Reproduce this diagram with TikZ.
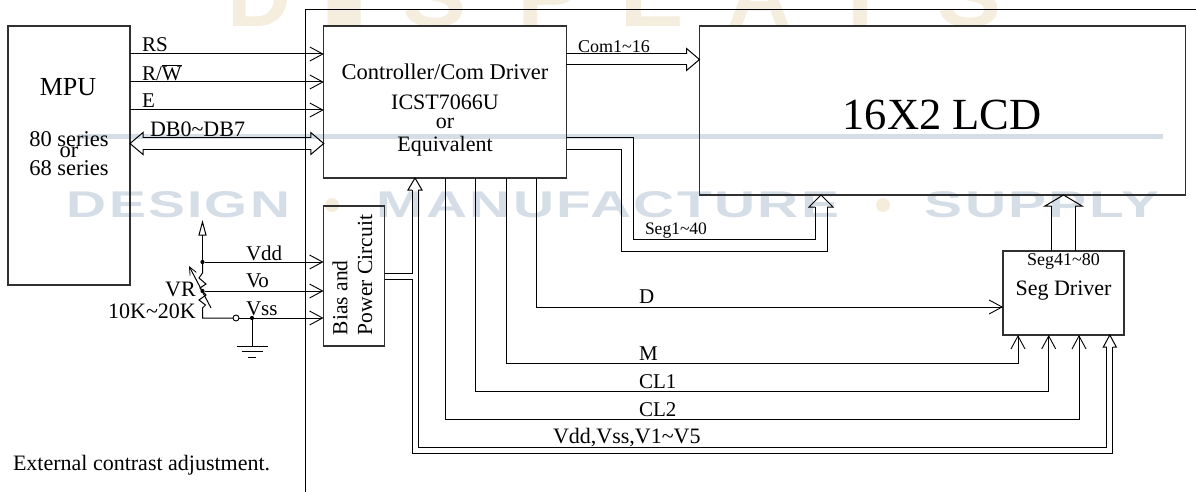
\documentclass[tikz,border=0pt]{standalone}
\usepackage{fontspec}
\usepackage{graphicx}
\setmainfont{Liberation Serif}
\newfontfamily\wmfont{Liberation Sans}
\usetikzlibrary{arrows.meta,calc}
\definecolor{wmblue}{HTML}{D5DEE6}
\definecolor{wmtan}{HTML}{F5EEDF}
\definecolor{wmdot}{HTML}{F6ECDC}
\definecolor{boxgray}{HTML}{303030}
\newcommand{\fsz}[1]{\fontsize{#1}{#1}\selectfont}
\newcommand{\wmword}[3]{\resizebox{#1pt}{#2pt}{\wmfont\bfseries\addfontfeature{LetterSpace=4}#3}}
% open head: tip coordinate, rotation, length, half width, half shaft gap
\newcommand{\hollowhead}[5]{\draw[wire,shift={(#1)},rotate=#2,line join=miter] (-#3,-#5) -- (-#3,-#4) -- (0,0) -- (-#3,#4) -- (-#3,#5);}
\tikzset{
  blockbox/.style={draw=boxgray,line width=1.1pt,rectangle,inner sep=0pt,outer sep=0pt,align=center},
  wire/.style={draw=black,line width=1pt},
  sig/.style={wire,-{Straight Barb[length=13pt,width=14pt,line width=0.9pt]}},
  lbl/.style={inner sep=0pt,outer sep=0pt,anchor=west,text=black,font=\fsz{21}},
  ctr/.style={inner sep=0pt,outer sep=0pt,anchor=center,text=black,font=\fsz{22}},
  wmletter/.style={inner sep=0pt,outer sep=0pt,anchor=base,text=wmtan},
  wmtext/.style={inner sep=0pt,outer sep=0pt,anchor=center,text=wmblue},
  junction/.style={circle,fill=black,inner sep=0pt,outer sep=0pt,minimum size=4.2pt},
  contact/.style={circle,draw=black,line width=0.9pt,fill=white,inner sep=0pt,outer sep=0pt,minimum size=6pt},
}
\begin{document}
\begin{tikzpicture}[x=1pt,y=-1pt]
\useasboundingbox (0,0) rectangle (1196,492);
\begin{scope}
\clip (0,0) rectangle (1196,492);
% watermark
\foreach \ltr/\xp in {D/260,I/345,S/435,P/550,L/652,A/760,Y/861,S/970}{
  \node[wmletter] at (\xp,27) {\resizebox{64pt}{60pt}{\wmfont\bfseries\ltr}};
}
\fill[wmblue] (78,134.5) rectangle (1163,139.5);
\node[wmtext] (wm1) at (178.5,205) {\wmword{223}{26}{DESIGN}};
\node[wmtext] (wm2) at (608,205) {\wmword{462}{26}{MANUFACTURE}};
\node[wmtext] (wm3) at (1042,205) {\wmword{234}{26}{SUPPLY}};
\fill[wmdot] (332,205) circle (7);
\fill[wmdot] (883,205) circle (7);
\end{scope}

% frame
\coordinate (fr1) at (305.5,492);
\coordinate (fr2) at (305.5,9.5);
\coordinate (fr3) at (1196,9.5);
\draw[wire] (fr1) -- (fr2) -- (fr3);

% blocks
\node[blockbox,minimum width=122pt,minimum height=259pt] (mpu) at (69,155.5) {};
\node[blockbox,minimum width=242.5pt,minimum height=152pt] (ctrl) at (445,102) {};
\node[blockbox,minimum width=486pt,minimum height=169pt] (lcd) at (942.5,110.5) {};
\node[blockbox,minimum width=121pt,minimum height=84pt] (seg) at (1063.5,293) {};
\node[blockbox,minimum width=61pt,minimum height=140pt] (bias) at (354,276) {};

% lanes
\foreach \nm/\yy in {rs/54,rw/82,en/110,dbA/138,dbB/149,vdd/262,vo/290,vss/318,com/54,comB/65}{
  \coordinate (l\nm) at (0,\yy);
}
% MPU signals
\draw[sig] (mpu.east |- lrs) -- (ctrl.west |- lrs);
\draw[sig] (mpu.east |- lrw) -- (ctrl.west |- lrw);
\draw[sig] (mpu.east |- len) -- (ctrl.west |- len);
% DB bus
\coordinate (dbL) at (mpu.east |- 0,143.5);
\coordinate (dbR) at (ctrl.west |- 0,143.5);
\draw[wire] ($(dbL)+(13,-5.5)$) -- ($(dbR)+(-13,-5.5)$);
\draw[wire] ($(dbL)+(13,5.5)$) -- ($(dbR)+(-13,5.5)$);
\hollowhead{dbL}{180}{13}{11}{5.5}
\hollowhead{dbR}{0}{13}{11}{5.5}
% Com bus
\coordinate (comT) at (lcd.west |- 0,59.5);
\draw[wire] (ctrl.east |- lcom) -- ($(comT)+(-13,-5.5)$);
\draw[wire] (ctrl.east |- lcomB) -- ($(comT)+(-13,5.5)$);
\hollowhead{comT}{0}{13}{11}{5.5}
% Seg1~40 bus
\coordinate (s1T) at (821,195);
\draw[wire] (ctrl.east |- ldbA) -| (633,239) -| (815,207);
\draw[wire] (ctrl.east |- ldbB) -| (621,251) -| (827,207);
\hollowhead{s1T}{90}{12}{12}{6}
% Seg41~80 bus
\coordinate (s2T) at (1063.5,195);
\draw[wire] (1051.7,251) -- (1051.7,206);
\draw[wire] (1075.3,251) -- (1075.3,206);
\hollowhead{s2T}{90}{11}{18.5}{11.8}
% D, M, CL1, CL2
\draw[sig] (536,178) |- (seg.west |- 0,307);
\draw[sig] (506,178) |- (1018,363) -- (1018,335);
\draw[sig] (475.5,178) |- (1048.7,391) -- (1048.7,335);
\draw[sig] (445,178) |- (1079,419.5) -- (1079,335);
% power bus
\coordinate (pwT) at (415,178);
\coordinate (pwS) at (1109.8,335);
\draw[wire] (bias.east |- 0,273) -| (412,190);
\draw[wire] (bias.east |- 0,279) -| (412,453) -| (1112.8,347);
\draw[wire] (418,190) |- (1106.8,447.7) -- (1106.8,347);
\hollowhead{pwT}{90}{12}{7}{3}
\hollowhead{pwS}{90}{12}{6.5}{3}
% resistor and supply lines
\node[junction] (jvdd) at (202.5,262) {};
\node[junction] (jvo) at (202.5,291) {};
\node[junction] (jvss) at (252,318) {};
\node[contact] (sw) at (236,318) {};
\coordinate (vsupT) at (202.5,222);
\draw[wire] (jvdd) -- (202.5,235);
\hollowhead{vsupT}{90}{13}{3.5}{0.01}
\draw[wire,line join=miter] (jvdd) -- (202.5,273) -- (199,278) -- (206,284) -- (200,288) -- (jvo) -- (206,295) -- (199,300) -- (205.5,305) -- (202.5,308) -- (202.5,318) -- (sw);
\draw[wire,-{Straight Barb[length=8pt,width=7pt,line width=0.8pt]}] (211,308) -- (189,266);
\draw[sig] (jvdd) -- (bias.west |- jvdd);
\draw[sig] (jvo) -- (bias.west |- jvo);
\draw[wire] (sw) -- (jvss);
\draw[sig] (jvss) -- (bias.west |- jvss);
\coordinate (gnd) at (252,346);
\draw[wire] (jvss) -- (gnd);
\draw[wire] ($(gnd)+(-15.5,0)$) -- ($(gnd)+(15.5,0)$);
\draw[wire] ($(gnd)+(-10.5,5.5)$) -- ($(gnd)+(10.5,5.5)$);
\draw[wire] ($(gnd)+(-4,11)$) -- ($(gnd)+(4,11)$);

% labels
\node[ctr,font=\fsz{26}] (tmpu) at (68,87) {MPU};
\node[ctr,font=\fsz{22.5}] (t80) at (69,139) {80 series};
\node[ctr,font=\fsz{22.5}] (tor) at (69,152) {or};
\node[ctr,font=\fsz{22.5}] (t68) at (69,168) {68 series};
\node[lbl] (trs) at (142,45) {RS};
\node[lbl] (trw) at (142,73) {R/$\overline{\mbox{W}}$};
\node[lbl] (te) at (142,101) {E};
\node[lbl,font=\fsz{22}] (tdb) at (150,129) {DB0\textasciitilde DB7};
\node[ctr,font=\fsz{22.5}] (tc1) at (445,72) {Controller/Com Driver};
\node[ctr] (tc2) at (445,102) {ICST7066U};
\node[ctr] (tc3) at (445,123) {or};
\node[ctr] (tc4) at (445,146) {Equivalent};
\node[lbl,font=\fsz{18}] (tcom) at (578,46.5) {Com1\textasciitilde 16};
\node[lbl,font=\fsz{17.5}] (tseg1) at (645,231) {Seg1\textasciitilde 40};
\node[ctr,font=\fsz{44.5}] (tlcd) at (942,115) {16X2 LCD};
\node[ctr,font=\fsz{18}] (tseg41) at (1063.5,261) {Seg41\textasciitilde 80};
\node[ctr,font=\fsz{22}] (tsegd) at (1063.5,291) {Seg Driver};
\node[lbl] (td) at (639,297) {D};
\node[lbl] (tm) at (639,354) {M};
\node[lbl] (tcl1) at (639,382) {CL1};
\node[lbl] (tcl2) at (639,410) {CL2};
\node[lbl,font=\fsz{22}] (tpw) at (553,437.5) {Vdd,Vss,V1\textasciitilde V5};
\node[lbl] (tvdd) at (246,253) {Vdd};
\node[lbl] (tvo) at (246,281) {Vo};
\node[lbl] (tvss) at (246,309) {Vss};
\node[ctr] (tvr) at (180.5,289) {VR};
\node[ctr] (tk) at (152,311) {10K\textasciitilde 20K};
\node[inner sep=0pt,outer sep=0pt,anchor=west,rotate=90,font=\fsz{21.5}] (tb1) at (340,335) {Bias and};
\node[inner sep=0pt,outer sep=0pt,anchor=west,rotate=90,font=\fsz{21.5}] (tb2) at (365,335) {Power Circuit};
\node[lbl,font=\fsz{22}] (text) at (13,465) {External contrast adjustment.};
\end{tikzpicture}
\end{document}
